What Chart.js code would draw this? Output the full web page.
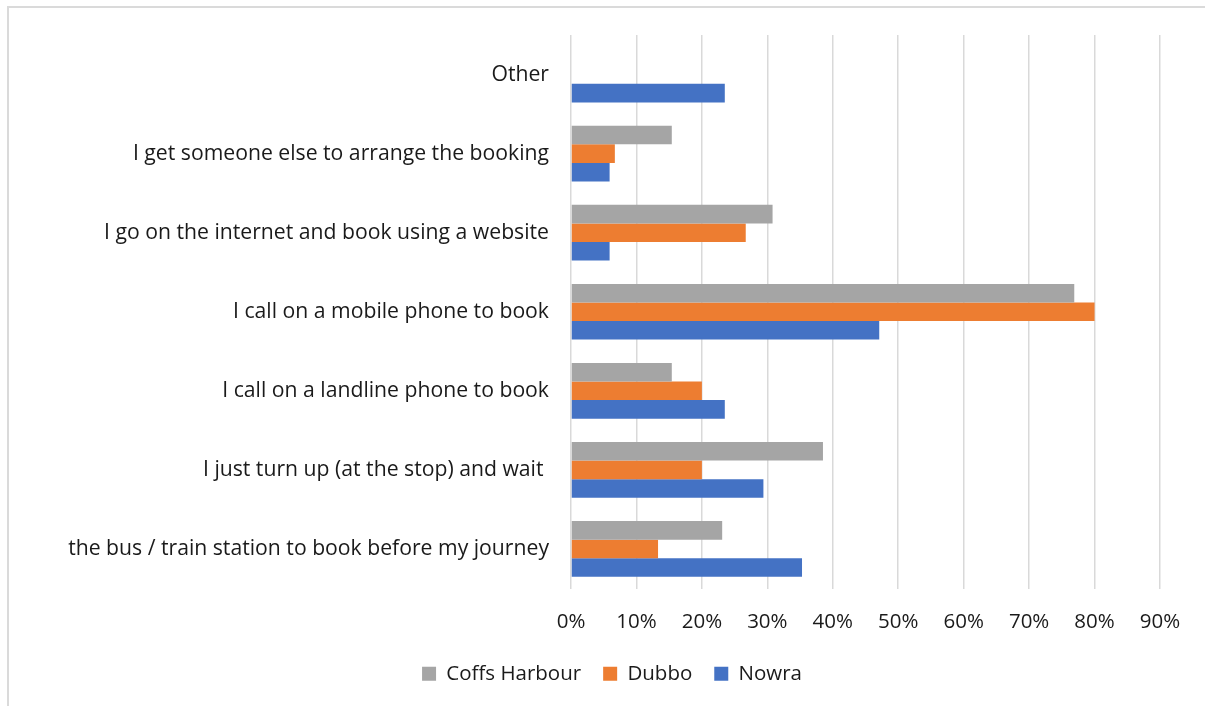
<!DOCTYPE html>
<html>
<head>
<meta charset="utf-8">
<script src="https://cdn.jsdelivr.net/npm/chart.js@4"></script>
<style>
  html, body { margin: 0; padding: 0; background: #fff; overflow: hidden; }
  #frame {
    position: absolute; left: 7px; top: 6px; width: 1220px; height: 720px;
    border: 2px solid #dadada; box-sizing: border-box;
  }
  #wrap { position: absolute; left: 7px; top: 6px; width: 1210px; height: 694px; }
</style>
</head>
<body>
<div id="frame"></div>
<div id="wrap"><canvas id="myChart"></canvas></div>
<script>
const labels = [
    'Other',
    'I get someone else to arrange the booking',
    'I go on the internet and book using a website',
    'I call on a mobile phone to book',
    'I call on a landline phone to book',
    'I just turn up (at the stop) and wait ',
    'I go to the bus / train station to book before my journey'
];

// percentages
const coffsHarbour = [0, 15.4, 30.8, 76.9, 15.4, 38.5, 23.1];
const dubbo = [0, 6.7, 26.7, 80.0, 20.0, 20.0, 13.3];
const nowra = [23.5, 5.9, 5.9, 47.1, 23.5, 29.4, 35.3];

const xTicks = [0, 10, 20, 30, 40, 50, 60, 70, 80, 90];

const fontFamily = '"Open Sans", "Noto Sans", sans-serif';
const textColor = '#1a1a1a';

const data = {
    labels: labels,
    datasets: [
        { label: 'Coffs Harbour', data: coffsHarbour, backgroundColor: '#A5A5A5' },
        { label: 'Dubbo', data: dubbo, backgroundColor: '#ED7D31' },
        { label: 'Nowra', data: nowra, backgroundColor: '#4472C4' }
    ]
};

const config = {
    type: 'bar',
    data: data,
    options: {
        indexAxis: 'y',
        responsive: true,
        maintainAspectRatio: false,
        animation: false,
        categoryPercentage: 0.705,
        barPercentage: 1.0,
        // equal left/right so the legend centres on the frame
        layout: { padding: { top: 29, right: 57, left: 57, bottom: 6 } },
        scales: {
            x: {
                min: 0,
                max: 90,
                afterBuildTicks: (axis) => { axis.ticks = xTicks.map(v => ({ value: v })); },
                afterFit: (axis) => { axis.height = 53; },
                grid: { color: '#d9d9d9', lineWidth: 1.5, drawTicks: false },
                border: { display: false },
                ticks: {
                    padding: 21,
                    color: textColor,
                    font: { family: fontFamily, size: 20.5 },
                    callback: (v) => v + '%'
                }
            },
            y: {
                // labels hang to the left of the axis box, so shrink it back
                afterFit: (axis) => { axis.paddingTop = 0; axis.paddingBottom = 0; axis.width -= 41; },
                grid: { display: false, drawTicks: false },
                border: { display: false },
                ticks: {
                    padding: 22,
                    color: textColor,
                    font: { family: fontFamily, size: 21.2 }
                }
            }
        },
        plugins: {
            legend: {
                position: 'bottom',
                labels: {
                    boxWidth: 14,
                    boxHeight: 14,
                    padding: 22,
                    color: textColor,
                    font: { family: fontFamily, size: 20.5 }
                }
            },
            tooltip: { enabled: false }
        }
    }
};

const myChart = new Chart(
    document.getElementById('myChart'),
    config
);
</script>
</body>
</html>
